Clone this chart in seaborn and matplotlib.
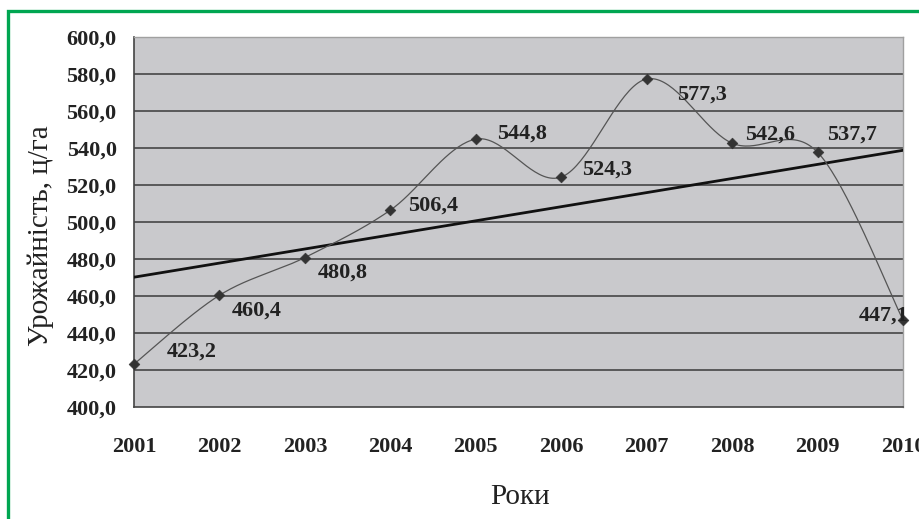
import numpy as np
import pandas as pd
import matplotlib
matplotlib.use("Agg")
import matplotlib.pyplot as plt
import matplotlib.ticker as mticker
from matplotlib.patches import Rectangle
from matplotlib.transforms import offset_copy
import seaborn as sns

years = [2001, 2002, 2003, 2004, 2005, 2006, 2007, 2008, 2009, 2010]
yields = [423.2, 460.4, 480.8, 506.4, 544.8, 524.3, 577.3, 542.6, 537.7, 447.1]
y_ticks = [400, 420, 440, 460, 480, 500, 520, 540, 560, 580, 600]
y_label = "Урожайність, ц/га"
x_label = "Роки"

# label offsets in pixels (dx to left edge, dy to centre; screen y down)
label_off = [(33, -12), (12, 15), (13, 15), (18, -5), (21, -6),
             (21, -7), (30, 16), (13, -9), (10, -18), (-44, -4)]

sns.set_theme(style="white")
plt.rcParams['font.family'] = ['Liberation Serif', 'DejaVu Serif']

fig = plt.figure(figsize=(9.2, 5.19), dpi=100)
W, H = 920, 519
ax = fig.add_axes([134 / W, 1 - 407 / H, (903 - 134) / W, (407 - 37) / H])
ax.set_facecolor("#c9c9cc")

df = pd.DataFrame({"year": years, "yield": yields})

# Excel-style smoothed line (Catmull-Rom as cubic Bezier)
P = np.column_stack([years, yields]).astype(float)
n = len(P)
xs, ys = [], []
t = np.linspace(0, 1, 40)
for i in range(n - 1):
    p0 = P[i - 1] if i > 0 else P[i]
    p1 = P[i]
    p2 = P[i + 1]
    p3 = P[i + 2] if i + 2 < n else P[i + 1]
    c1 = p1 + (p2 - p0) / 6
    c2 = p2 - (p3 - p1) / 6
    b = ((1 - t) ** 3)[:, None] * p1 + (3 * (1 - t) ** 2 * t)[:, None] * c1 \
        + (3 * (1 - t) * t ** 2)[:, None] * c2 + (t ** 3)[:, None] * p2
    xs.extend(b[:, 0]); ys.extend(b[:, 1])
smooth = pd.DataFrame({"x": xs, "y": ys})

for yv in y_ticks[1:-1]:
    ax.axhline(yv, color="#3a3a3a", lw=1.1, zorder=1)

sns.regplot(data=df, x="year", y="yield", scatter=False, ci=None, ax=ax,
            line_kws=dict(color="#111111", lw=2.0, zorder=3))
sns.lineplot(data=smooth, x="x", y="y", sort=False, estimator=None, ax=ax,
             color="#555555", lw=0.9, zorder=4)
sns.scatterplot(data=df, x="year", y="yield", marker="D", s=30, color="#333333",
                edgecolor="#333333", ax=ax, zorder=5, clip_on=False)

ax.set_xlim(2001, 2010)
ax.set_ylim(400, 600)
ax.set_xticks(years)
ax.set_yticks(y_ticks)
ax.yaxis.set_major_formatter(mticker.FuncFormatter(lambda v, p: f"{v:.1f}".replace(".", ",")))
ax.tick_params(axis="x", direction="inout", length=15, width=1, color="#444444",
               pad=14, labelsize=16, labelcolor="#222222")
ax.tick_params(axis="y", direction="inout", length=11, width=1, color="#444444",
               pad=7, labelsize=16, labelcolor="#222222")
for lab in ax.get_xticklabels() + ax.get_yticklabels():
    lab.set_fontweight("bold")

for side in ["left", "bottom"]:
    ax.spines[side].set_color("#444444")
    ax.spines[side].set_linewidth(1.2)
for side in ["top", "right"]:
    ax.spines[side].set_color("#a0a0a0")
    ax.spines[side].set_linewidth(1.0)

ax.set_xlabel("")
ax.set_ylabel("")
fig.text(41 / W, 1 - 236 / H, y_label, rotation=90, ha="center", va="center",
         fontsize=21, color="#222222")
fig.text(520 / W, 1 - 497 / H, x_label, ha="center", va="center",
         fontsize=21, color="#222222")

for yr, val, (dx, dy) in zip(years, yields, label_off):
    tr = offset_copy(ax.transData, fig=fig, x=dx * 0.72, y=-dy * 0.72, units="points")
    ax.text(yr, val, f"{val:.1f}".replace(".", ","), transform=tr, ha="left",
            va="center", fontsize=16, fontweight="bold", color="#222222",
            zorder=6, clip_on=False)

fig.patches.append(Rectangle((8 / W, -0.1), 1.2, 1 - 11 / H + 0.1,
                             transform=fig.transFigure, fill=False,
                             edgecolor="#00a651", lw=2.4))

fig.savefig("out.png", dpi=100)
